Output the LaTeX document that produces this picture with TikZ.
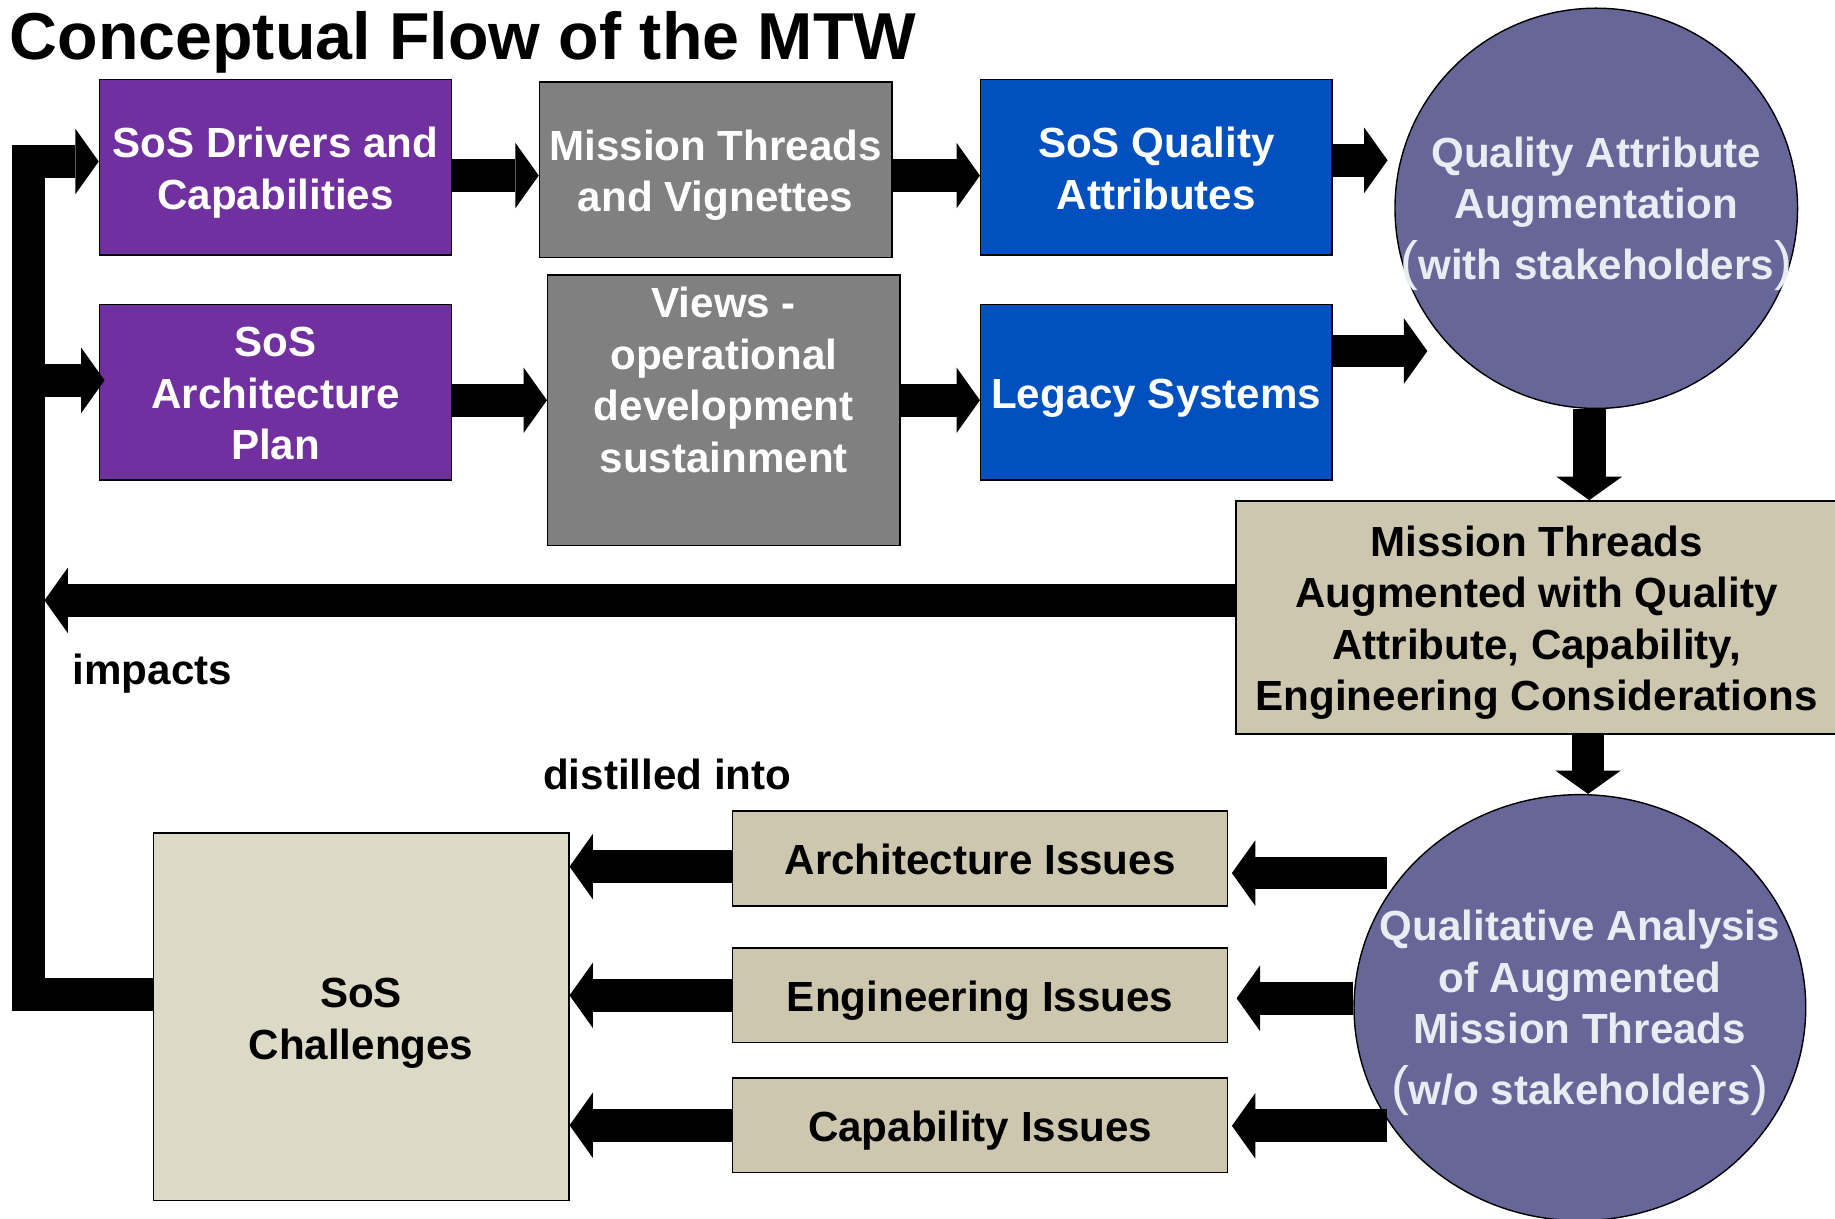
\documentclass[tikz,border=0pt]{standalone}
\usepackage{fontspec}
\setmainfont{Liberation Sans}
\usetikzlibrary{arrows.meta,shapes.geometric}
\definecolor{purpfill}{HTML}{7030A0}
\definecolor{grayfill}{HTML}{808080}
\definecolor{bluefill}{HTML}{0050C0}
\definecolor{circfill}{HTML}{666699}
\definecolor{tanfill}{HTML}{CCC7AE}
\definecolor{tanlight}{HTML}{DDD9C7}
\definecolor{circtext}{HTML}{E8ECF3}
\newcommand{\bigparen}[1]{{\fontsize{46}{46}\selectfont\mdseries #1}}
\newcommand{\mytopstrut}{\rule{0pt}{38pt}}
\newcommand{\mybotstrut}{\rule[-10pt]{0pt}{10pt}}
\begin{document}
\begin{tikzpicture}[x=1pt,y=-1pt,
  lbl/.style={font=\fontsize{36}{44}\selectfont\bfseries, align=center, inner sep=0pt},
  boxbase/.style={lbl, draw=black, line width=1.3pt, rectangle},
  purplebox/.style={boxbase, fill=purpfill, text=white, minimum width=301pt, minimum height=150pt},
  graybox/.style={boxbase, fill=grayfill, text=white, minimum width=301pt, minimum height=150pt},
  bluebox/.style={boxbase, fill=bluefill, text=white, minimum width=300pt, minimum height=150pt},
  tanbox/.style={boxbase, fill=tanfill, text=black},
  issuebox/.style={tanbox, minimum width=423pt, minimum height=81pt},
  bubble/.style={ellipse, draw=black, line width=1.2pt, fill=circfill, inner sep=0pt},
  bubbletext/.style={lbl, text=circtext},
  barrow/.style={line width=28pt, -{Triangle[length=20pt,width=56pt,line width=0pt]}},
]
\useasboundingbox (0,0) rectangle (1568,1041);

% title
\node[anchor=base west, inner sep=0pt, font=\fontsize{56.7}{60}\selectfont\bfseries] (title) at (8,51) {Conceptual Flow of the MTW};

% top rows
\node[purplebox] (drv) at (235.5,143) {\mytopstrut SoS Drivers and\\Capabilities\mybotstrut};
\node[purplebox] (arch) at (235.5,335) {\mytopstrut SoS\\Architecture\\Plan\mybotstrut};
\node[graybox] (mtv) at (611.5,145) {\mytopstrut Mission Threads\\and Vignettes\mybotstrut};
\node[graybox, minimum height=231pt] (views) at (618.5,350.5) {};
\node[lbl, text=white] (viewstxt) at ([yshift=26pt]views.center) {Views -\\operational\\development\\sustainment};
\node[bluebox] (sqa) at (988,143) {\mytopstrut SoS Quality\\Attributes\mybotstrut};
\node[bluebox] (leg) at (988,335) {\mytopstrut Legacy Systems\mybotstrut};

% circle 1
\node[bubble, minimum width=344pt, minimum height=342pt] (qaa) at (1364,178) {};
\node[bubbletext] (qaatxt) at ([yshift=-4.5pt]qaa.center) {Quality Attribute\\Augmentation\\[8pt]\bigparen{(}with stakeholders\bigparen{)}};

% augmented mission threads
\node[tanbox, minimum width=514pt, minimum height=199pt] (mta) at (1313,527.5) {\mytopstrut Mission Threads\\Augmented with Quality\\Attribute, Capability,\\Engineering Considerations\mybotstrut};

% circle 2
\node[bubble, minimum width=386pt, minimum height=364pt] (qa2) at (1350,861) {};
\node[bubbletext] (qa2txt) at ([yshift=-4.5pt]qa2.center) {Qualitative Analysis\\of Augmented\\Mission Threads\\[8pt]\bigparen{(}w/o stakeholders\bigparen{)}};

% issues
\node[issuebox] (ai) at (837.5,733.5) {\mytopstrut Architecture Issues\mybotstrut};
\node[issuebox] (ei) at (837.5,850.5) {\mytopstrut Engineering Issues\mybotstrut};
\node[issuebox] (ci) at (837.5,961.5) {\mytopstrut Capability Issues\mybotstrut};

% challenges
\node[boxbase, fill=tanlight, minimum width=355pt, minimum height=314pt] (chal) at (308.5,869) {\mytopstrut SoS\\Challenges\mybotstrut};

% labels
\node[lbl, anchor=west] (impacts) at (62,576) {impacts};
\node[lbl, anchor=west] (distilled) at (464,662) {distilled into};

% feedback loop coordinates
\coordinate (fbBot) at (24.5,850);
\coordinate (fbTop) at (24.5,138);
\coordinate (fbMid) at (24.5,325);
\coordinate (fbHit) at (38,513);
\coordinate (qaout1) at (1185,746);
\coordinate (qaout3) at (1185,962);

% connectors
\draw[barrow, line join=miter] (chal.west |- fbBot) -- (fbBot) -- (fbTop) -- (drv.west |- fbTop);
\draw[barrow] (fbMid) -- ([xshift=5pt]arch.west |- fbMid);
\draw[barrow] ([yshift=-7pt]drv.east) -- ([yshift=-7pt]drv.east -| mtv.west);
\draw[barrow] ([yshift=-5pt]mtv.east) -- ([yshift=-5pt]mtv.east -| sqa.west);
\draw[barrow] ([yshift=-7pt]arch.east) -- ([yshift=-7pt]arch.east -| views.west);
\draw[barrow] ([yshift=-7pt]arch.east -| views.east) -- ([yshift=-7pt]arch.east -| leg.west);
\draw[barrow] ([yshift=6pt]sqa.east) -- ([yshift=6pt,xshift=47pt]sqa.east);
\draw[barrow] ([yshift=35pt]leg.east) -- ([yshift=35pt,xshift=81pt]leg.east);
\draw[barrow] ([xshift=-6pt]qaa.south) -- ([xshift=-6pt]qaa.south |- mta.north);
\draw[barrow] ([xshift=44pt]mta.south) -- ([xshift=44pt]mta.south |- qa2.north);
\draw[barrow] ([yshift=14.5pt]mta.west) -- (fbHit);
\draw[barrow] (qaout1) -- ([xshift=3pt]qaout1 -| ai.east);
\draw[barrow] ([yshift=8pt]qa2.west) -- ([yshift=8pt,xshift=7pt]qa2.west -| ei.east);
\draw[barrow] (qaout3) -- ([xshift=3pt]qaout3 -| ci.east);
\draw[barrow] ([yshift=-7pt]ai.west) -- ([yshift=-7pt]ai.west -| chal.east);
\draw[barrow] (ei.west) -- (ei.west -| chal.east);
\draw[barrow] (ci.west) -- (ci.west -| chal.east);
\end{tikzpicture}
\end{document}
